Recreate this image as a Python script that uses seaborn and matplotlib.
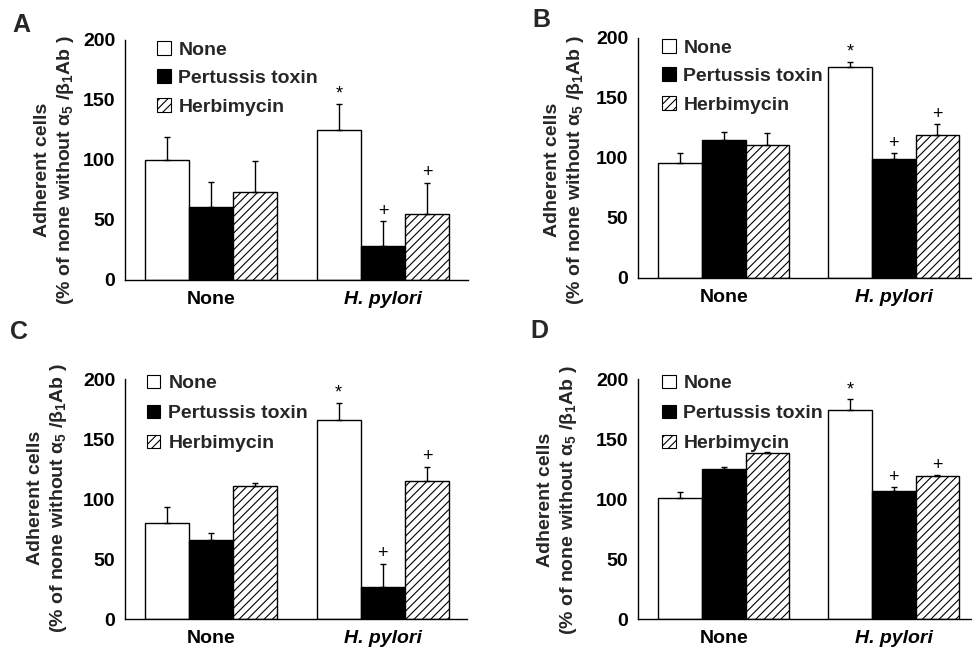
import numpy as np
import pandas as pd
import matplotlib
matplotlib.use("Agg")
import matplotlib.pyplot as plt
import matplotlib.patches as mpatches
import seaborn as sns

# ---------------- data ----------------
groups = ["None", "H. pylori"]
treatments = ["None", "Pertussis toxin", "Herbimycin"]
panel_names = ["A", "B", "C", "D"]

# order of values: group "None" -> [None, Pertussis toxin, Herbimycin], then group "H. pylori" -> same
a_means = [100, 61, 73, 125, 28, 55]
a_errs = [19, 21, 26, 22, 21, 26]
b_means = [96, 115, 111, 176, 99, 119]
b_errs = [8, 7, 10, 4, 5, 9]
c_means = [80, 66, 111, 166, 27, 115]
c_errs = [13, 6, 2, 14, 19, 12]
d_means = [101, 125, 138, 174, 107, 119]
d_errs = [5, 2, 1, 9, 3, 1]
marks = ["", "", "", "*", "+", "+"]

yticks = [0, 50, 100, 150, 200]

# ---------------- style ----------------
sns.set_theme(style="white")
plt.rcParams["font.family"] = ["Liberation Sans", "DejaVu Sans"]
plt.rcParams["font.weight"] = "bold"
plt.rcParams["mathtext.fontset"] = "custom"
plt.rcParams["mathtext.rm"] = "Liberation Sans:bold"
plt.rcParams["mathtext.it"] = "Liberation Sans:bold"
plt.rcParams["mathtext.bf"] = "Liberation Sans:bold"
plt.rcParams["hatch.linewidth"] = 0.8

W, H = 972, 653
fig = plt.figure(figsize=(W / 100, H / 100), dpi=100)


def rect(left, right, top, bottom):
    return [left / W, (H - bottom) / H, (right - left) / W, (bottom - top) / H]


panels = [
    dict(name="A", means=a_means, errs=a_errs, rect=rect(125, 468, 40, 280), xlim=(-0.5, 1.494),
         ylab=(-0.204, 0.458), leg=(0.093, 0.996), lsp=0.56, lab=(12, 32)),
    dict(name="B", means=b_means, errs=b_errs, rect=rect(638, 972, 38, 278), xlim=(-0.505, 1.46),
         ylab=(-0.219, 0.45), leg=(0.072, 0.996), lsp=0.56, lab=(532, 27)),
    dict(name="C", means=c_means, errs=c_errs, rect=rect(125, 467, 379, 619), xlim=(-0.5, 1.49),
         ylab=(-0.225, 0.504), leg=(0.064, 1.018), lsp=0.64, lab=(10, 339)),
    dict(name="D", means=d_means, errs=d_errs, rect=rect(638, 972, 379, 619), xlim=(-0.505, 1.46),
         ylab=(-0.24, 0.496), leg=(0.072, 1.018), lsp=0.64, lab=(530, 338)),
]

face = {"None": "white", "Pertussis toxin": "black", "Herbimycin": "white"}
hatches = {"None": "", "Pertussis toxin": "", "Herbimycin": "////"}

for p in panels:
    ax = fig.add_axes(p["rect"])
    rows = []
    k = 0
    for g in groups:
        for t in treatments:
            rows.append(dict(group=g, treatment=t, value=p["means"][k], err=p["errs"][k], mark=marks[k]))
            k += 1
    df = pd.DataFrame(rows)

    sns.barplot(data=df, x="group", y="value", hue="treatment", order=groups,
                hue_order=treatments, palette=[face[t] for t in treatments],
                edgecolor="black", linewidth=1.0, width=0.77, errorbar=None,
                legend=False, ax=ax, saturation=1)

    for ti, (t, cont) in enumerate(zip(treatments, ax.containers)):
        sub = df[df.treatment == t].set_index("group").loc[groups]
        xs, ys = [], []
        for bar in cont:
            bar.set_hatch(hatches[t])
            bar.set_edgecolor("black")
            xs.append(bar.get_x() + bar.get_width() / 2)
            ys.append(bar.get_height())
        errs = sub["err"].to_numpy()
        ax.errorbar(xs, ys, yerr=[np.zeros(len(errs)), errs], fmt="none", ecolor="black",
                    elinewidth=1.0, capsize=2, capthick=1.0, zorder=3)
        for x, y, e, m in zip(xs, ys, errs, sub["mark"]):
            if m:
                ax.annotate(m, (x, y + e), xytext=(0, 1), textcoords="offset points",
                            ha="center", va="bottom", fontsize=13, fontweight="normal",
                            color="black")

    ax.set_xlim(*p["xlim"])
    ax.set_ylim(0, 200)
    ax.set_yticks(yticks)
    ax.set_yticklabels([str(v) for v in yticks], fontsize=14, fontweight="bold")
    ax.set_xticks(range(len(groups)))
    ax.set_xticklabels(groups, fontsize=14, fontweight="bold")
    ax.get_xticklabels()[1].set_style("italic")
    ax.tick_params(axis="both", length=0, colors="black")
    ax.tick_params(axis="y", pad=7)
    ax.tick_params(axis="x", pad=8)
    ax.set_xlabel("")
    ax.set_ylabel("")
    for s in ["top", "right"]:
        ax.spines[s].set_visible(False)
    for s in ["left", "bottom"]:
        ax.spines[s].set_color("black")
        ax.spines[s].set_linewidth(1.0)

    ax.text(p["ylab"][0], p["ylab"][1],
            "Adherent cells\n(% of none without $\\alpha_5$ /$\\beta_1$Ab )",
            transform=ax.transAxes, rotation=90, ha="center", va="center",
            multialignment="center", fontsize=14, fontweight="bold", linespacing=1.25)

    handles = [mpatches.Patch(facecolor=face[t], edgecolor="black", hatch=hatches[t], linewidth=0.8,
                              label=t) for t in treatments]
    leg = ax.legend(handles=handles, loc="upper left", bbox_to_anchor=p["leg"], frameon=False,
                    fontsize=14, handlelength=0.7, handleheight=0.7, handletextpad=0.4,
                    labelspacing=p["lsp"], borderpad=0, borderaxespad=0)
    for txt in leg.get_texts():
        txt.set_fontweight("bold")

    fig.text(p["lab"][0] / W, 1 - p["lab"][1] / H, p["name"], fontsize=18, fontweight="bold",
             ha="left", va="baseline")

fig.savefig("out.png", dpi=100)
